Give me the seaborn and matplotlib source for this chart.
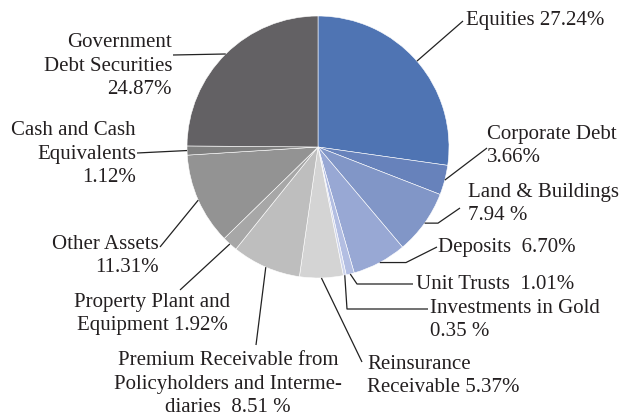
import numpy as np
import seaborn as sns
import matplotlib.pyplot as plt

# Data
categories = ['Equities', 'Corporate Debt', 'Land & Buildings', 'Deposits',
              'Unit Trusts', 'Investments in Gold', 'Reinsurance Receivable',
              'Premium Receivable', 'Property Plant and Equipment',
              'Other Assets', 'Cash and Cash Equivalents',
              'Government Debt Securities']
shares = [27.24, 3.66, 7.94, 6.70, 1.01, 0.35, 5.37, 8.51, 1.92, 11.31, 1.12, 24.87]
labels = ['Equities 27.24%', 'Corporate Debt\n3.66%', 'Land & Buildings\n7.94 %',
          'Deposits  6.70%', 'Unit Trusts  1.01%', 'Investments in Gold\n0.35 %',
          'Reinsurance\nReceivable 5.37%',
          'Premium Receivable from\nPolicyholders and Interme-\ndiaries  8.51 %',
          'Property Plant and\nEquipment 1.92%', 'Other Assets\n11.31%',
          'Cash and Cash\nEquivalents\n1.12%', 'Government\nDebt Securities\n24.87%']
hex_colors = ['#4f74b3', '#6782bb', '#8196c7', '#98a8d4', '#b3bee2', '#cfd5ec',
              '#d4d4d4', '#bebebe', '#a7a7a7', '#939393', '#808080', '#636164']

# layout in pixels (pie centre 318,147 radius 131)
CX, CY, R = 318, 147, 131
W, H = 621, 419


def px(x, y):
    return ((x - CX) / R, (CY - y) / R)


# text anchor (x, y, ha), and leader waypoints after the wedge edge point
text_pos = [(466, 20, 'left'), (487, 146, 'left'), (468, 204, 'left'),
            (438, 247, 'left'), (416, 284, 'left'), (430, 320, 'left'),
            (367, 376, 'left'), (228, 384, 'center'), (230, 314, 'right'),
            (159, 256, 'right'), (136, 154, 'right'), (172, 66, 'right')]
multi = ['left'] * 7 + ['center', 'center', 'right', 'right', 'right']
waypoints = [[(463, 21)], [(487, 148)], ['h438', (460, 208)],
             ['h406', (437, 247)], [(357, 284), (413, 284)],
             [(347, 309), (428, 309)], [(362, 362)], [(256, 345)],
             [(180, 290)], [(160, 247)], [(137, 153)], [(173, 55)]]

sns.set_theme(style='white')
plt.rcParams['font.family'] = ['Liberation Serif', 'DejaVu Serif']

fig = plt.figure(figsize=(W / 100, H / 100), dpi=100)
ax = fig.add_axes([0, 0, 1, 1])
wedges, _ = ax.pie(shares, colors=sns.color_palette(hex_colors), startangle=90,
                   counterclock=False, radius=1,
                   wedgeprops=dict(edgecolor='white', linewidth=0.4))
ax.set_xlim(-CX / R, (W - CX) / R)
ax.set_ylim(-(H - CY) / R, CY / R)
ax.set_aspect('equal')
ax.axis('off')

for w, lab, (tx, ty, ha), ma, wp in zip(wedges, labels, text_pos, multi, waypoints):
    mid = np.deg2rad((w.theta1 + w.theta2) / 2)
    ex, ey = np.cos(mid), np.sin(mid)
    xs, ys = [ex], [ey]
    for p in wp:
        if isinstance(p, str):
            xs.append((float(p[1:]) - CX) / R)
            ys.append(ey)
        else:
            q = px(*p)
            xs.append(q[0])
            ys.append(q[1])
    ax.plot(xs, ys, color='#222222', lw=0.9, solid_capstyle='butt')
    x, y = px(tx, ty)
    ax.text(x, y, lab, ha=ha, va='center', multialignment=ma,
            fontsize=15, color='#231f20', linespacing=1.3)

fig.savefig('out.png', dpi=100)
